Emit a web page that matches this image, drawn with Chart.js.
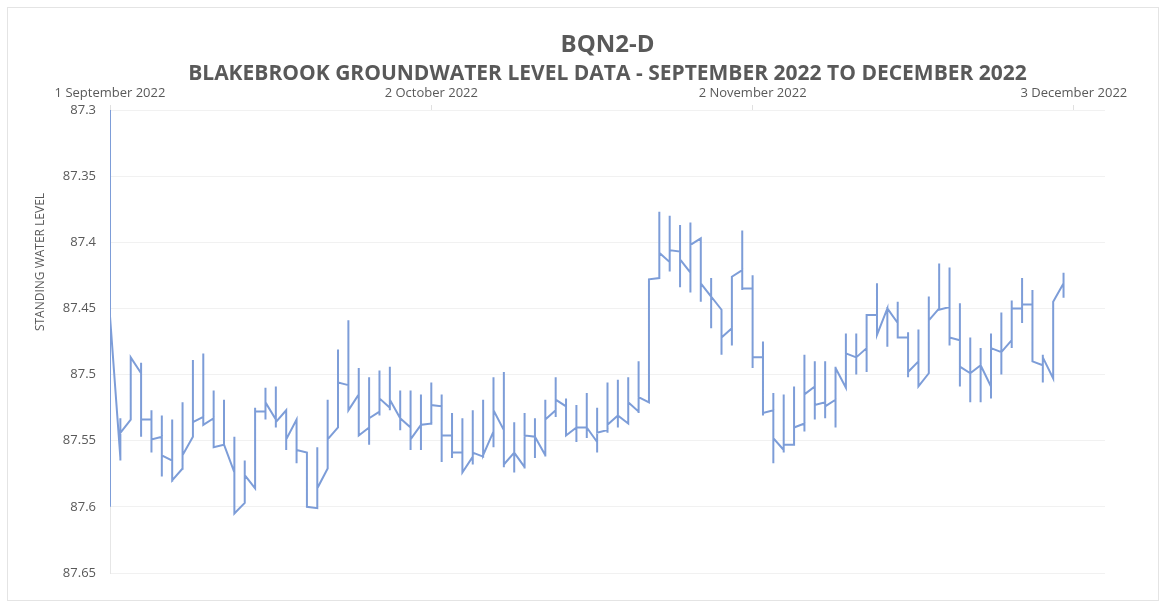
<!DOCTYPE html>
<html>
<head>
<meta charset="utf-8">
<title>BQN2-D groundwater level</title>
<script src="https://cdn.jsdelivr.net/npm/chart.js@4/dist/chart.umd.min.js"></script>
<style>
  html, body { margin: 0; padding: 0; background: #fff; }
  canvas { display: block; }
</style>
</head>
<body>
<canvas id="levelChart" width="1166" height="608"></canvas>
<script>
// Daily readings, day 0 = 1 September 2022.
// For each day: first reading, shallowest, deepest, last reading.
const levelFirst = [
  87.600, 87.563, 87.534, 87.499, 87.534, 87.547, 87.565, 87.571, 87.547, 87.532,
  87.533, 87.553, 87.574, 87.597, 87.586, 87.528, 87.534, 87.527, 87.534, 87.559,
  87.601, 87.571, 87.540, 87.508, 87.515, 87.540, 87.528, 87.525, 87.533, 87.540,
  87.538, 87.537, 87.524, 87.546, 87.559, 87.562, 87.562, 87.543, 87.542, 87.559,
  87.570, 87.547, 87.561, 87.527, 87.524, 87.540, 87.540, 87.551, 87.542, 87.531,
  87.537, 87.528, 87.521, 87.427, 87.415, 87.407, 87.423, 87.397, 87.441, 87.451,
  87.465, 87.421, 87.435, 87.487, 87.527, 87.557, 87.553, 87.537, 87.509, 87.521,
  87.519, 87.510, 87.487, 87.480, 87.455, 87.450, 87.461, 87.472, 87.490, 87.499,
  87.450, 87.449, 87.474, 87.499, 87.493, 87.509, 87.483, 87.474, 87.450, 87.447,
  87.493, 87.503, 87.431
];
const levelMin = [
  87.300, 87.533, 87.487, 87.491, 87.527, 87.531, 87.534, 87.521, 87.489, 87.484,
  87.512, 87.519, 87.547, 87.565, 87.525, 87.510, 87.509, 87.527, 87.534, 87.561,
  87.555, 87.519, 87.481, 87.459, 87.495, 87.502, 87.497, 87.494, 87.512, 87.512,
  87.515, 87.506, 87.515, 87.529, 87.533, 87.527, 87.519, 87.502, 87.498, 87.536,
  87.529, 87.533, 87.519, 87.502, 87.518, 87.523, 87.514, 87.525, 87.506, 87.504,
  87.502, 87.490, 87.428, 87.377, 87.380, 87.387, 87.385, 87.397, 87.427, 87.451,
  87.426, 87.391, 87.425, 87.475, 87.514, 87.515, 87.509, 87.485, 87.490, 87.490,
  87.494, 87.469, 87.469, 87.455, 87.431, 87.449, 87.445, 87.468, 87.466, 87.441,
  87.416, 87.419, 87.446, 87.472, 87.480, 87.469, 87.453, 87.444, 87.427, 87.436,
  87.485, 87.445, 87.423
];
const levelMax = [
  87.600, 87.565, 87.534, 87.547, 87.559, 87.577, 87.581, 87.572, 87.547, 87.538,
  87.555, 87.553, 87.605, 87.597, 87.586, 87.534, 87.540, 87.557, 87.567, 87.600,
  87.601, 87.571, 87.540, 87.527, 87.546, 87.553, 87.531, 87.527, 87.542, 87.557,
  87.557, 87.538, 87.566, 87.563, 87.574, 87.568, 87.561, 87.555, 87.570, 87.574,
  87.571, 87.563, 87.562, 87.532, 87.546, 87.551, 87.548, 87.559, 87.544, 87.540,
  87.537, 87.529, 87.521, 87.427, 87.422, 87.434, 87.438, 87.445, 87.465, 87.485,
  87.478, 87.436, 87.495, 87.531, 87.567, 87.559, 87.553, 87.543, 87.534, 87.533,
  87.540, 87.510, 87.500, 87.498, 87.470, 87.479, 87.472, 87.502, 87.509, 87.499,
  87.451, 87.478, 87.509, 87.521, 87.521, 87.518, 87.500, 87.480, 87.461, 87.490,
  87.506, 87.503, 87.442
];
const levelLast = [
  87.456, 87.544, 87.487, 87.534, 87.549, 87.561, 87.580, 87.561, 87.536, 87.538,
  87.555, 87.553, 87.605, 87.576, 87.528, 87.521, 87.536, 87.549, 87.557, 87.600,
  87.586, 87.549, 87.506, 87.527, 87.546, 87.533, 87.518, 87.519, 87.533, 87.549,
  87.538, 87.523, 87.546, 87.559, 87.574, 87.559, 87.561, 87.527, 87.568, 87.559,
  87.546, 87.547, 87.534, 87.519, 87.546, 87.540, 87.540, 87.544, 87.538, 87.531,
  87.521, 87.517, 87.428, 87.408, 87.406, 87.413, 87.402, 87.431, 87.441, 87.472,
  87.426, 87.435, 87.487, 87.529, 87.548, 87.553, 87.540, 87.515, 87.523, 87.524,
  87.495, 87.484, 87.487, 87.455, 87.470, 87.450, 87.472, 87.498, 87.509, 87.459,
  87.451, 87.472, 87.494, 87.499, 87.493, 87.480, 87.483, 87.450, 87.447, 87.490,
  87.487, 87.445, 87.431
];

const tickDays = [0, 31, 62, 93];
const tickLabels = ['1 September 2022', '2 October 2022', '2 November 2022', '3 December 2022'];

const points = [];
levelFirst.forEach((v, d) => {
    points.push({ x: d, y: v });
    points.push({ x: d, y: levelMin[d] });
    points.push({ x: d, y: levelMax[d] });
    points.push({ x: d, y: levelLast[d] });
});

const textColor = '#595959';
const fontFamily = '"Open Sans", "Liberation Sans", sans-serif';

// frame around the whole chart and the rotated axis title
const framePlugin = {
    id: 'frame',
    beforeDraw(chart) {
        const ctx = chart.ctx;
        ctx.save();
        ctx.fillStyle = '#ffffff';
        ctx.fillRect(0, 0, chart.width, chart.height);
        ctx.strokeStyle = '#e4e4e4';
        ctx.lineWidth = 1;
        ctx.strokeRect(7.5, 7.5, chart.width - 15, chart.height - 15);
        ctx.restore();
    },
    afterDraw(chart) {
        const ctx = chart.ctx;
        ctx.save();
        ctx.translate(41, 262);
        ctx.rotate(-Math.PI / 2);
        ctx.fillStyle = textColor;
        ctx.font = '12px ' + fontFamily;
        ctx.textAlign = 'center';
        ctx.textBaseline = 'middle';
        ctx.fillText('STANDING WATER LEVEL', 0, 0);
        ctx.restore();
    }
};

new Chart(document.getElementById('levelChart'), {
    type: 'line',
    data: {
        datasets: [{
            label: 'BQN2-D',
            data: points,
            borderColor: '#7d9dd8',
            borderWidth: 2,
            pointRadius: 0,
            tension: 0,
            fill: false
        }]
    },
    options: {
        responsive: false,
        animation: false,
        layout: { padding: { left: 0, right: 61, top: 0, bottom: 35 } },
        plugins: {
            legend: { display: false },
            tooltip: { enabled: false },
            title: {
                display: true,
                fullSize: false,
                text: 'BQN2-D',
                color: textColor,
                font: { family: fontFamily, size: 24, weight: 'bold' },
                padding: { top: 31, bottom: 2 }
            },
            subtitle: {
                display: true,
                fullSize: false,
                text: 'BLAKEBROOK GROUNDWATER LEVEL DATA - SEPTEMBER 2022 TO DECEMBER 2022',
                color: textColor,
                font: { family: fontFamily, size: 21, weight: 'bold' },
                padding: { top: 0, bottom: 0 }
            }
        },
        scales: {
            x: {
                type: 'linear',
                position: 'top',
                min: 0,
                max: 96,
                afterBuildTicks(scale) {
                    scale.ticks = tickDays.map(v => ({ value: v }));
                },
                ticks: {
                    color: textColor,
                    font: { family: fontFamily, size: 13 },
                    maxRotation: 0,
                    autoSkip: false,
                    padding: 4,
                    callback: (v) => tickLabels[tickDays.indexOf(v)] || ''
                },
                grid: { drawOnChartArea: false, color: '#e0e0e0', tickLength: 5 },
                border: { display: false },
                afterFit(scale) { scale.height = 23; }
            },
            y: {
                reverse: true,
                min: 87.3,
                max: 87.65,
                afterFit(scale) { scale.width = 110; },
                ticks: {
                    stepSize: 0.05,
                    color: textColor,
                    font: { family: fontFamily, size: 13 },
                    padding: 14,
                    callback: (v) => String(Number(v.toFixed(2)))
                },
                grid: { color: '#f1f1f1', drawTicks: false },
                border: { display: true, color: '#e6e6e6' }
            }
        }
    },
    plugins: [framePlugin]
});
</script>
</body>
</html>
